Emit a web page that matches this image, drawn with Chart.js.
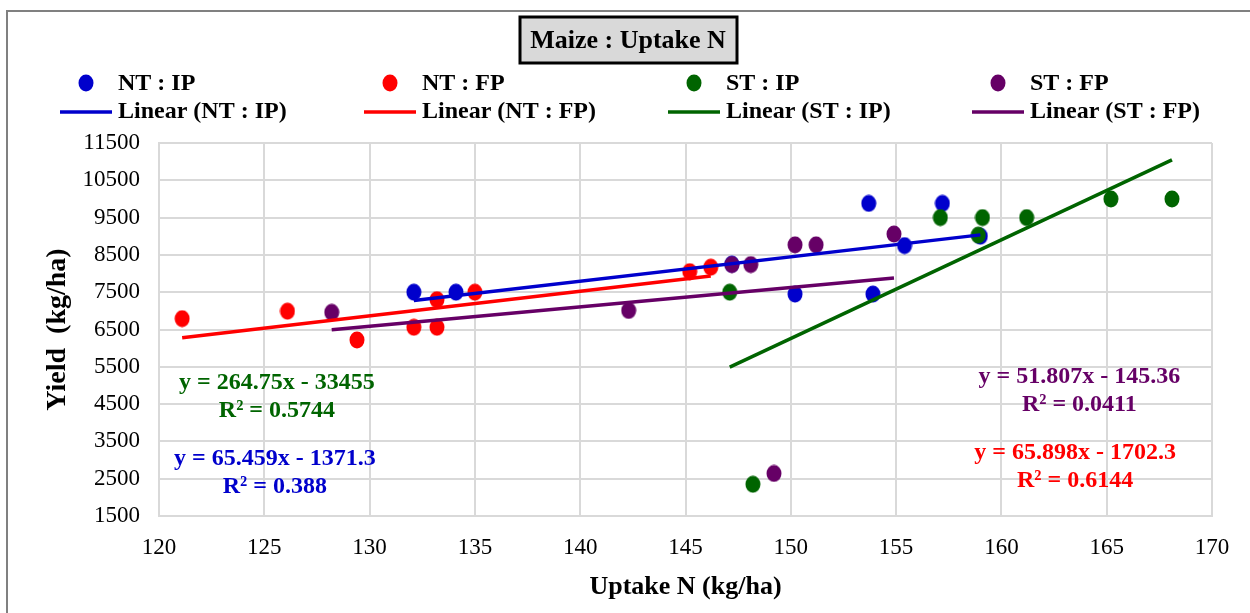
<!DOCTYPE html>
<html>
<head>
<meta charset="utf-8">
<title>Maize : Uptake N</title>
<script src="https://cdn.jsdelivr.net/npm/chart.js@4.4.1/dist/chart.umd.min.js"></script>
<style>
    body { margin: 0; background: #fff; }
    #wrap { position: relative; width: 1250px; height: 613px; }
</style>
</head>
<body>
<div id="wrap"><canvas id="myChart" width="1250" height="613"></canvas></div>
<script>
// values
const ntIpX = [132.1, 134.1, 147.2, 150.2, 153.7, 153.9, 155.4, 157.2, 159.0];
const ntIpY = [7500, 7500, 8250, 7450, 9880, 7450, 8750, 9880, 9000];
const ntFpX = [121.1, 126.1, 129.4, 132.1, 133.2, 133.2, 135.0, 145.2, 146.2];
const ntFpY = [6790, 6990, 6220, 6560, 6560, 7300, 7500, 8050, 8170];
const stIpX = [147.1, 148.2, 157.1, 158.9, 159.1, 161.2, 165.2, 168.1];
const stIpY = [7500, 2350, 9500, 9030, 9500, 9500, 10000, 10000];
const stFpX = [128.2, 142.3, 147.2, 148.1, 149.2, 150.2, 151.2, 154.9];
const stFpY = [6960, 7010, 8240, 8240, 2640, 8770, 8770, 9060];

const seriesNames = ['NT : IP', 'NT : FP', 'ST : IP', 'ST : FP'];
const seriesColors = ['#0000cc', '#ff0000', '#006400', '#660066'];
const slopes = [65.459, 65.898, 264.75, 51.807];
const intercepts = [-1371.3, -1702.3, -33455, -145.36];
const rSquared = ['0.388', '0.6144', '0.5744', '0.0411'];

const xTicks = [120, 125, 130, 135, 140, 145, 150, 155, 160, 165, 170];
const yTicks = [1500, 2500, 3500, 4500, 5500, 6500, 7500, 8500, 9500, 10500, 11500];

const allX = [ntIpX, ntFpX, stIpX, stFpX];
const allY = [ntIpY, ntFpY, stIpY, stFpY];

const SERIF = '"Liberation Serif", "Times New Roman", serif';

function makeDot(color) {
    const c = document.createElement('canvas');
    c.width = 16;
    c.height = 18;
    const g = c.getContext('2d');
    g.fillStyle = color;
    g.beginPath();
    g.ellipse(8, 9, 7.5, 8.5, 0, 0, Math.PI * 2);
    g.fill();
    return c;
}
const dots = seriesColors.map(makeDot);

const datasets = [];
seriesNames.forEach((name, i) => {
    datasets.push({
        label: name,
        data: allX[i].map((x, j) => ({ x: x, y: allY[i][j] })),
        pointStyle: dots[i],
        pointRadius: 8,
        pointHoverRadius: 8,
        order: 8 - i
    });
});
seriesNames.forEach((name, i) => {
    const x0 = Math.min(...allX[i]);
    const x1 = Math.max(...allX[i]);
    datasets.push({
        label: 'Linear (' + name + ')',
        data: [x0, x1].map(x => ({ x: x, y: slopes[i] * x + intercepts[i] })),
        showLine: true,
        borderColor: seriesColors[i],
        borderWidth: 3.5,
        pointRadius: 0,
        order: 4 - i
    });
});

// equation label spots, in axis units
const eqSpots = [[125.5, 3030], [163.5, 3190], [125.6, 5070], [163.7, 5230]];

const decorPlugin = {
    id: 'decor',
    afterDraw(chart) {
        const ctx = chart.ctx;
        const xs = chart.scales.x;
        const ys = chart.scales.y;
        ctx.save();

        // outer frame
        ctx.strokeStyle = '#808080';
        ctx.lineWidth = 2;
        ctx.beginPath();
        ctx.moveTo(7, 613);
        ctx.lineTo(7, 11);
        ctx.lineTo(1250, 11);
        ctx.stroke();

        // title box
        ctx.fillStyle = '#d9d9d9';
        ctx.fillRect(520, 17, 217, 46);
        ctx.strokeStyle = '#000';
        ctx.lineWidth = 3;
        ctx.strokeRect(520, 17, 217, 46);
        ctx.fillStyle = '#000';
        ctx.font = 'bold 26px ' + SERIF;
        ctx.textAlign = 'center';
        ctx.textBaseline = 'middle';
        ctx.fillText('Maize : Uptake N', 628, 41);

        // legend, two rows of four
        ctx.font = 'bold 24px ' + SERIF;
        ctx.textAlign = 'left';
        seriesNames.forEach((name, i) => {
            const colX = 60 + i * 304;
            ctx.drawImage(dots[i], colX + 18, 74);
            ctx.fillStyle = '#000';
            ctx.fillText(name, colX + 58, 84);
            ctx.strokeStyle = seriesColors[i];
            ctx.lineWidth = 3.5;
            ctx.beginPath();
            ctx.moveTo(colX, 112);
            ctx.lineTo(colX + 52, 112);
            ctx.stroke();
            ctx.fillText('Linear (' + name + ')', colX + 58, 112);
        });

        // trendline equations
        ctx.font = 'bold 24px ' + SERIF;
        ctx.textAlign = 'center';
        seriesNames.forEach((name, i) => {
            const px = xs.getPixelForValue(eqSpots[i][0]);
            const py = ys.getPixelForValue(eqSpots[i][1]);
            ctx.fillStyle = seriesColors[i];
            ctx.fillText('y = ' + slopes[i] + 'x - ' + Math.abs(intercepts[i]), px, py);
            ctx.fillText('R\u00b2 = ' + rSquared[i], px, py + 28);
        });
        ctx.restore();
    }
};

const ctx = document.getElementById('myChart').getContext('2d');
const chart = new Chart(ctx, {
    type: 'scatter',
    data: { datasets: datasets },
    options: {
        responsive: false,
        animation: false,
        layout: { padding: { left: 0, top: 143, right: 38, bottom: 0 } },
        plugins: {
            legend: { display: false },
            tooltip: { enabled: false }
        },
        scales: {
            x: {
                type: 'linear',
                min: 120,
                max: 170,
                afterBuildTicks: s => { s.ticks = xTicks.map(v => ({ value: v })); },
                afterFit: s => { s.height = 97; },
                ticks: { color: '#000', padding: 18, font: { family: SERIF, size: 23 }, callback: v => String(v) },
                grid: { color: '#d9d9d9', lineWidth: 2, drawTicks: false },
                border: { color: '#d9d9d9', width: 2 },
                title: {
                    display: true,
                    text: 'Uptake N (kg/ha)',
                    color: '#000',
                    font: { family: SERIF, size: 26, weight: 'bold' },
                    padding: { top: 0, bottom: 10 }
                }
            },
            y: {
                type: 'linear',
                min: 1500,
                max: 11500,
                afterBuildTicks: s => { s.ticks = yTicks.map(v => ({ value: v })); },
                afterFit: s => { s.width = 159; },
                ticks: { color: '#000', padding: 19, font: { family: SERIF, size: 23 }, callback: v => String(v) },
                grid: { color: '#d9d9d9', lineWidth: 2, drawTicks: false },
                border: { color: '#d9d9d9', width: 2 },
                title: {
                    display: true,
                    text: 'Yield  (kg/ha)',
                    color: '#000',
                    font: { family: SERIF, size: 28, weight: 'bold' },
                    padding: { top: 41, bottom: 0 }
                }
            }
        }
    },
    plugins: [decorPlugin]
});
</script>
</body>
</html>
